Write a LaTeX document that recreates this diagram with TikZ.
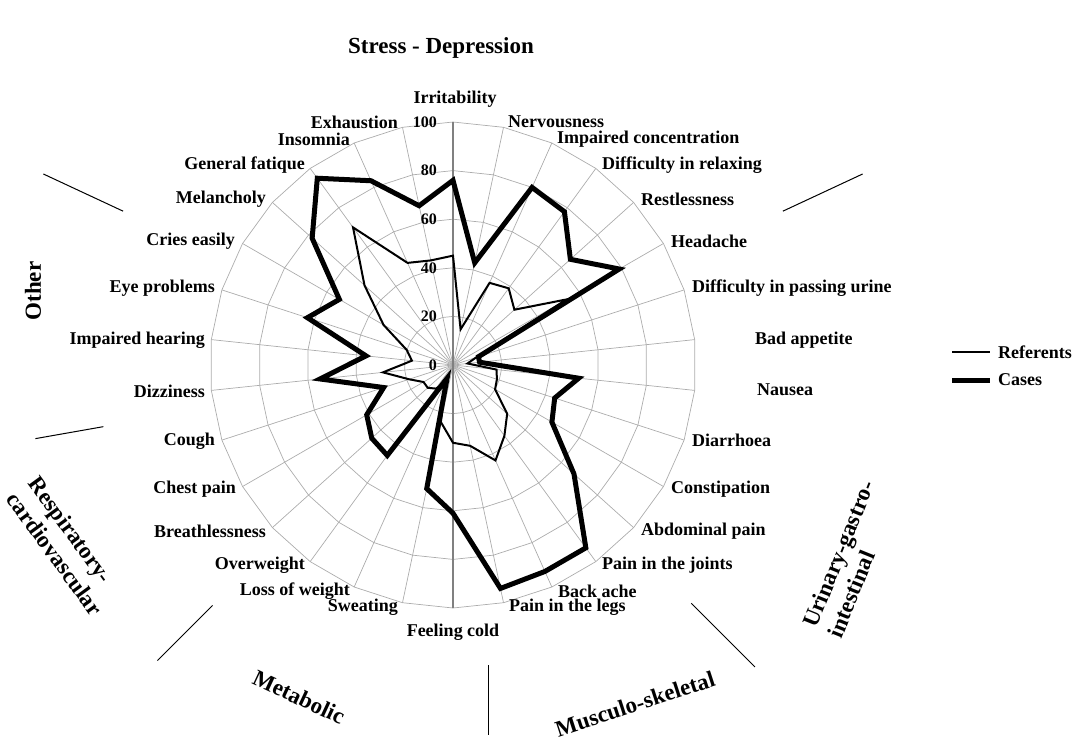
\documentclass[tikz,border=0pt]{standalone}
\usepackage{fontspec}
\setmainfont{Liberation Serif}

\tikzset{
	gridline/.style = {gray!65, line width = 0.7pt},
	valueaxis/.style = {gray, line width = 1.2pt},
	referents/.style = {line width = 2pt, line join = miter},
	cases/.style = {line width = 5pt, line join = miter},
	symptom/.style = {inner sep = 0pt},
	grouplabel/.style = {inner sep = 0pt, font = \fontsize{23}{27}\selectfont\bfseries},
	divider/.style = {line width = 1pt}
}

\begin{document}
\begin{tikzpicture}[x = 1pt, y = 1pt, font = \fontsize{18}{20}\selectfont\bfseries]
	\useasboundingbox (-453,-375) rectangle (622,365);
	\def\sc{2.43}
	\foreach \k in {0,...,29}
	\draw [gridline] (0,0) -- ({90-12*\k}:100*\sc);
	\foreach \r in {20,40,60,80,100}
	\draw [gridline] (90:\r*\sc) \foreach \k in {1,...,29} {-- ({90-12*\k}:\r*\sc)} -- cycle;
	\draw [valueaxis] (0,-100*\sc) -- (0,100*\sc);
	\foreach \t in {0,20,...,100}
	\node (tick-\t) at (-16,\t*\sc) [anchor = east, symptom, font = \fontsize{16}{18}\selectfont\bfseries] {\t};
	\foreach \v [count = \i from 0] in {45,15,37,39,34,54,10,6,18,19,20,30,36,43,34,32,24,8,12,14,14,19,29,17,20,33,49,70,46,44}
	\coordinate (r-\i) at ({90-12*\i}:\v*\sc);
	\foreach \v [count = \i from 0] in {76,43,80,78,65,79,11,11,52,44,47,67,93,93,94,61,52,6,46,45,41,30,55,36,63,54,78,95,83,67}
	\coordinate (c-\i) at ({90-12*\i}:\v*\sc);
	\draw [referents] (r-0) \foreach \i in {1,...,29} {-- (r-\i)} -- cycle;
	\draw [cases] (c-0) \foreach \i in {1,...,29} {-- (c-\i)} -- cycle;
	\foreach \n/\x/\y/\a/\s in {irr/2/266/center/Irritability, ner/55/243/west/Nervousness,
		imc/104/226/west/Impaired concentration, dir/149/200/west/Difficulty in relaxing,
		res/188/166/west/Restlessness, hea/218/124/west/Headache,
		dpu/239/77/west/Difficulty in passing urine, bap/302/25/west/Bad appetite,
		nau/304/-25/west/Nausea, dia/239/-75/west/Diarrhoea,
		con/218/-124/west/Constipation, abd/188/-166/west/Abdominal pain,
		joi/149/-200/west/Pain in the joints, bac/105/-226/west/Back ache,
		leg/56/-242/west/Pain in the legs, col/0/-267/center/Feeling cold,
		swe/-55/-242/east/Sweating, low/-103/-226/east/Loss of weight,
		ove/-148/-200/east/Overweight, bre/-187/-166/east/Breathlessness,
		che/-217/-124/east/Chest pain, cou/-238/-76/east/Cough,
		diz/-248/-26/east/Dizziness, ihe/-248/25/east/Impaired hearing,
		eye/-238/77/east/Eye problems, cri/-218/124/east/Cries easily,
		mel/-187/166/east/Melancholy, gen/-148/200/east/General fatique,
		ins/-103/226/east/Insomnia, exh/-55/243/east/Exhaustion}
	\node (lab-\n) at (\x,\y) [anchor = \a, symptom] {\s};
	\node (grp-stress) at (-12,317) [grouplabel] {Stress - Depression};
	\node (grp-other) at (-420,74) [grouplabel, rotate = 90] {Other};
	\node (grp-resp) at (-387,-181) [grouplabel, rotate = -54, align = left] {Respiratory-\\cardiovascular};
	\node (grp-meta) at (-154,-332) [grouplabel, rotate = -25] {Metabolic};
	\node (grp-musc) at (182,-339) [grouplabel, rotate = 18] {Musculo-skeletal};
	\node (grp-uri) at (398,-194) [grouplabel, rotate = 68, align = left] {Urinary-gastro-\\intestinal};
	\draw [divider] (25:364) -- (25:452);
	\draw [divider] (155:364) -- (155:452);
	\draw [divider] (190:355) -- (190:424);
	\draw [divider] (225:340) -- (225:418);
	\draw [divider] (35,-300) -- (35,-370);
	\draw [divider] (-45:337) -- (-45:427);
	\coordinate (ref-a) at (499,13);
	\coordinate (ref-b) at (537,13);
	\coordinate (cas-a) at (499,-15);
	\coordinate (cas-b) at (537,-15);
	\draw [referents] (ref-a) -- (ref-b);
	\draw [cases] (cas-a) -- (cas-b);
	\node (leg-ref) at (545,13) [anchor = west, symptom] {Referents};
	\node (leg-cas) at (545,-15) [anchor = west, symptom] {Cases};
\end{tikzpicture}
\end{document}
